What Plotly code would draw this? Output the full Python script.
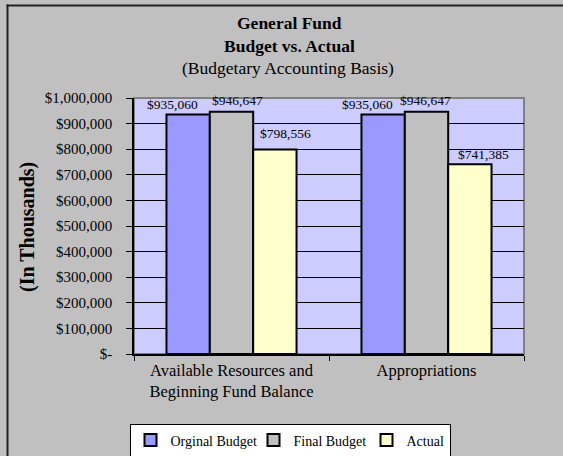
import plotly.graph_objects as go

categories = ["Available Resources and<br>Beginning Fund Balance", "Appropriations"]
series_names = ["Orginal Budget", "Final Budget", "Actual"]
original_budget = [935060, 935060]
final_budget = [946647, 946647]
actual = [798556, 741385]
tick_values = [0, 100000, 200000, 300000, 400000, 500000, 600000, 700000, 800000, 900000, 1000000]
tick_labels = ["$-", "$100,000", "$200,000", "$300,000", "$400,000", "$500,000",
               "$600,000", "$700,000", "$800,000", "$900,000", "$1,000,000"]

colors = ["#9999FF", "#C0C0C0", "#FFFFCC"]
# label nudges (px) per series and category, as in the original chart: (dx, dy above bar top)
label_dx = [[-16, -15.5], [5.5, -1], [11, 13.5]]
label_dy = [[10, 10], [11, 11], [16.5, 10]]
legend_widths = [78, 68, None]
FONT = "Liberation Serif, Times New Roman, serif"

W, H = 563, 456
L, R, T, B = 134, 39, 98, 102
pw, ph = W - L - R, H - T - B
BARGAP = 0.333
bar_px = pw / len(categories) * (1 - BARGAP) / len(series_names)

def px(x):
    return (x - L) / pw

def py(y):
    return (H - B - y) / ph

def ann(text, x, y, size, angle=0):
    return dict(text=text, x=px(x), y=py(y), xref="paper", yref="paper",
                xanchor="center", yanchor="middle", showarrow=False, textangle=angle,
                font=dict(size=size, family=FONT, color="black"))

fig = go.Figure()
annotations = [
    ann("<b>General Fund</b>", 289, 23, 17.5),
    ann("<b>Budget vs. Actual</b>", 289, 46, 17.5),
    ann("(Budgetary Accounting Basis)", 288, 68, 17.5),
    ann("<b>(In Thousands)</b>", 27, 227, 20, -90),
]
for si, (name, vals, col) in enumerate(zip(series_names, [original_budget, final_budget, actual], colors)):
    tr = dict(x=categories, y=vals, name=name,
              marker=dict(color=col, line=dict(color="black", width=2)))
    if legend_widths[si]:
        tr["legendwidth"] = legend_widths[si]
    fig.add_trace(go.Bar(**tr))
    for ci, (cat, v) in enumerate(zip(categories, vals)):
        annotations.append(dict(
            x=cat, y=v, xref="x", yref="y", text="${:,}".format(v), showarrow=False,
            xanchor="center", yanchor="middle",
            xshift=(si - 1) * bar_px + label_dx[si][ci], yshift=label_dy[si][ci],
            font=dict(size=13.5, family=FONT, color="black")))

fig.update_layout(
    width=W, height=H,
    margin=dict(l=L, r=R, t=T, b=B, pad=0, autoexpand=False),
    paper_bgcolor="#C0C0C0", plot_bgcolor="#CCCCFF",
    font=dict(family=FONT, color="black", size=14),
    barmode="group", bargap=BARGAP, bargroupgap=0,
    showlegend=True,
    legend=dict(orientation="h", x=px(290), xanchor="center", y=py(440.5), yanchor="middle",
                bgcolor="white", bordercolor="black", borderwidth=1,
                font=dict(size=14, family=FONT), itemwidth=30, traceorder="normal"),
    annotations=annotations,
    shapes=[
        dict(type="rect", xref="paper", yref="paper", x0=0, x1=1, y0=0, y1=1,
             line=dict(color="#808080", width=2), layer="below"),
        dict(type="rect", xref="paper", yref="paper", x0=px(6.5), x1=px(563), y0=py(4.5), y1=py(6.5),
             line=dict(width=0), fillcolor="#222222"),
        dict(type="rect", xref="paper", yref="paper", x0=px(6.5), x1=px(8.5), y0=py(4.5), y1=py(456),
             line=dict(width=0), fillcolor="#222222"),
    ],
)
fig.update_yaxes(range=[0, 1000000], tickvals=tick_values, ticktext=tick_labels,
                 showgrid=True, gridcolor="black", gridwidth=1,
                 showline=True, linecolor="black", linewidth=1.5,
                 ticks="outside", ticklen=6, tickcolor="black", ticklabelstandoff=11,
                 tickfont=dict(size=15, family=FONT), zeroline=False)
fig.update_xaxes(showline=True, linecolor="black", linewidth=1.5,
                 ticks="outside", tickson="boundaries", ticklen=5, tickcolor="black",
                 tickfont=dict(size=16.5, family=FONT))

fig.write_html("out.html", config={"displayModeBar": False},
               post_script="document.body.style.margin='0px';document.body.style.overflow='hidden';"
                           "document.documentElement.style.overflow='hidden';")
